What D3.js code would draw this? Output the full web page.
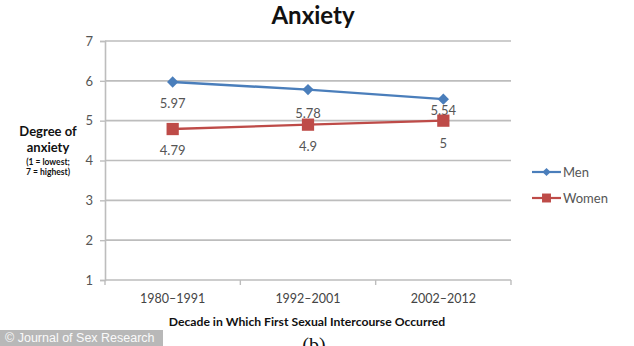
<!DOCTYPE html>
<html>
<head>
<meta charset="utf-8">
<script src="https://cdn.jsdelivr.net/npm/d3@7"></script>
<style>
  html, body { margin: 0; padding: 0; background: #fff; }
  svg { display: block; }
</style>
</head>
<body>
<svg id="chart" width="634" height="346"></svg>
<script>
// Decades of first intercourse and mean anxiety scores
const decades = ["1980–1991", "1992–2001", "2002–2012"];
const menValues = [5.97, 5.78, 5.54];
const womenValues = [4.79, 4.9, 5];
const yTicks = [1, 2, 3, 4, 5, 6, 7];
const seriesNames = ["Men", "Women"];

// Vertical offsets (px) of each value label below its marker
const menLabelOffsets = [26, 28, 16];
const womenLabelOffsets = [26, 26, 27];

const series = [
  { name: seriesNames[0], values: menValues, color: "#4a7ebb", shape: "diamond", offsets: menLabelOffsets },
  { name: seriesNames[1], values: womenValues, color: "#be4b48", shape: "square", offsets: womenLabelOffsets }
];

const svg = d3.select("#chart");
const font = "Lato, 'Open Sans', sans-serif";

const plot = { left: 105, right: 511, top: 41, bottom: 280 };

const x = d3.scaleBand().domain(decades).range([plot.left, plot.right]);
const y = d3.scaleLinear().domain([1, 7]).range([plot.bottom, plot.top]);

// Markers: diamonds are squares turned 45 degrees
function marker(shape, big) {
  const size = shape === "diamond" ? (big ? 64 : 34) : (big ? 150 : 80);
  return {
    d: d3.symbol().type(d3.symbolSquare).size(size)(),
    rot: shape === "diamond" ? 45 : 0
  };
}

// Horizontal gridlines
svg.append("g")
  .selectAll("line")
  .data(yTicks.filter(t => t > 1))
  .join("line")
  .attr("x1", plot.left).attr("x2", plot.right)
  .attr("y1", d => y(d)).attr("y2", d => y(d))
  .attr("stroke", "#bdbdbd").attr("stroke-width", 1.6);

// Y axis
const yAxis = svg.append("g")
  .attr("transform", `translate(${plot.left},0)`)
  .call(d3.axisLeft(y).tickValues(yTicks).tickFormat(d3.format("d")).tickSize(5).tickPadding(7));
yAxis.select(".domain").attr("stroke", "#bdbdbd").attr("stroke-width", 1.6);
yAxis.selectAll(".tick line").attr("stroke", "#bdbdbd").attr("stroke-width", 1.4);
yAxis.selectAll(".tick text").attr("font-family", font).attr("font-size", 13).attr("fill", "#555");

// X axis with ticks at category boundaries
const xAxisG = svg.append("g").attr("transform", `translate(0,${plot.bottom})`);
xAxisG.append("line")
  .attr("x1", plot.left).attr("x2", plot.right)
  .attr("stroke", "#bdbdbd").attr("stroke-width", 1.6);
const boundaries = decades.map(d => x(d)).concat([x(decades[decades.length - 1]) + x.bandwidth()]);
xAxisG.selectAll("line.tk")
  .data(boundaries)
  .join("line").attr("class", "tk")
  .attr("x1", d => d).attr("x2", d => d)
  .attr("y1", 0).attr("y2", 5)
  .attr("stroke", "#bdbdbd").attr("stroke-width", 1.4);
xAxisG.selectAll("text")
  .data(decades)
  .join("text")
  .attr("x", d => x(d) + x.bandwidth() / 2)
  .attr("y", 23)
  .attr("text-anchor", "middle")
  .attr("font-family", font).attr("font-size", 12.5).attr("fill", "#444")
  .text(d => d);

// Series lines, markers and value labels
const line = d3.line()
  .x((d, i) => x(decades[i]) + x.bandwidth() / 2)
  .y(d => y(d));

series.forEach(s => {
  const g = svg.append("g");
  g.append("path")
    .datum(s.values)
    .attr("d", line)
    .attr("fill", "none")
    .attr("stroke", s.color)
    .attr("stroke-width", 2.4);
  const m = marker(s.shape, true);
  g.selectAll("path.mk")
    .data(s.values)
    .join("path").attr("class", "mk")
    .attr("transform", (d, i) => `translate(${x(decades[i]) + x.bandwidth() / 2},${y(d)}) rotate(${m.rot})`)
    .attr("d", m.d)
    .attr("fill", s.color);
  g.selectAll("text")
    .data(s.values)
    .join("text")
    .attr("x", (d, i) => x(decades[i]) + x.bandwidth() / 2)
    .attr("y", (d, i) => y(d) + s.offsets[i])
    .attr("text-anchor", "middle")
    .attr("font-family", font).attr("font-size", 13).attr("fill", "#555")
    .text(d => d);
});

// Legend
const legend = svg.append("g").attr("transform", "translate(532,172)");
series.forEach((s, i) => {
  const row = legend.append("g").attr("transform", `translate(0,${i * 26})`);
  row.append("line").attr("x1", 0).attr("x2", 29)
    .attr("stroke", s.color).attr("stroke-width", 2.2);
  const m = marker(s.shape, false);
  row.append("path").attr("transform", `translate(14.5,0) rotate(${m.rot})`).attr("d", m.d).attr("fill", s.color);
  row.append("text").attr("x", 31).attr("y", 4.5)
    .attr("font-family", font).attr("font-size", 13).attr("fill", "#555")
    .text(s.name);
});

// Title
svg.append("text")
  .attr("x", 313).attr("y", 24)
  .attr("text-anchor", "middle")
  .attr("font-family", font).attr("font-weight", "bold").attr("font-size", 24)
  .attr("fill", "#111")
  .text("Anxiety");

// Y axis title
const yTitle = svg.append("g").attr("font-family", font).attr("text-anchor", "middle").attr("fill", "#111").attr("font-weight", "bold");
yTitle.append("text").attr("x", 48).attr("y", 136).attr("font-size", 13).text("Degree of");
yTitle.append("text").attr("x", 48).attr("y", 152).attr("font-size", 13).text("anxiety");
yTitle.append("text").attr("x", 48).attr("y", 165).attr("font-size", 8.5).text("(1 = lowest;");
yTitle.append("text").attr("x", 48).attr("y", 175).attr("font-size", 8.5).text("7 = highest)");

// X axis title
svg.append("text")
  .attr("x", 307).attr("y", 326)
  .attr("text-anchor", "middle")
  .attr("font-family", font).attr("font-weight", "bold").attr("font-size", 12.2)
  .attr("fill", "#111")
  .text("Decade in Which First Sexual Intercourse Occurred");

// Panel label
svg.append("text")
  .attr("x", 314).attr("y", 352)
  .attr("text-anchor", "middle")
  .attr("font-family", "'Liberation Serif', serif").attr("font-size", 20)
  .attr("fill", "#111")
  .text("(b)");

// Credit strip
svg.append("rect").attr("x", 0).attr("y", 330).attr("width", 163).attr("height", 16).attr("fill", "#b8b8b8");
svg.append("text")
  .attr("x", 5).attr("y", 342)
  .attr("font-family", "'Liberation Sans', Arial, sans-serif").attr("font-size", 12.5)
  .attr("fill", "#fafafa")
  .text("© Journal of Sex Research");
</script>
</body>
</html>
